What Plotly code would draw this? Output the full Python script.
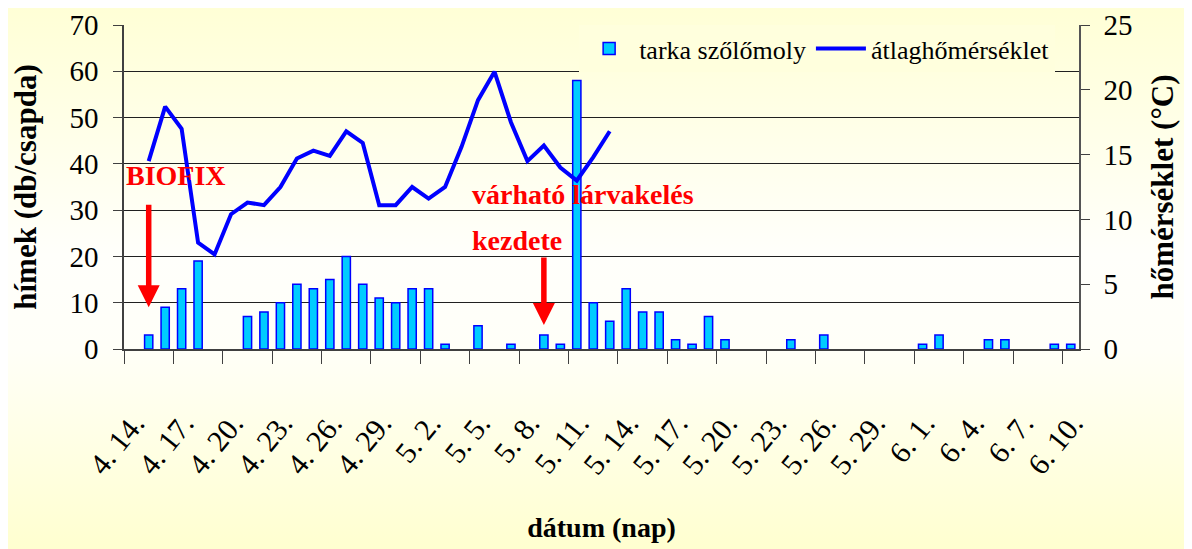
import base64
import plotly.graph_objects as go

# ---------------- data ----------------
dates = [
    "4. 14.", "4. 15.", "4. 16.", "4. 17.", "4. 18.", "4. 19.", "4. 20.", "4. 21.", "4. 22.", "4. 23.",
    "4. 24.", "4. 25.", "4. 26.", "4. 27.", "4. 28.", "4. 29.", "4. 30.",
    "5. 1.", "5. 2.", "5. 3.", "5. 4.", "5. 5.", "5. 6.", "5. 7.", "5. 8.", "5. 9.", "5. 10.",
    "5. 11.", "5. 12.", "5. 13.", "5. 14.", "5. 15.", "5. 16.", "5. 17.", "5. 18.", "5. 19.", "5. 20.",
    "5. 21.", "5. 22.", "5. 23.", "5. 24.", "5. 25.", "5. 26.", "5. 27.", "5. 28.", "5. 29.", "5. 30.", "5. 31.",
    "6. 1.", "6. 2.", "6. 3.", "6. 4.", "6. 5.", "6. 6.", "6. 7.", "6. 8.", "6. 9.", "6. 10.",
]

# caught males per trap (tarka szőlőmoly)
moths = [
    None, 3, 9, 13, 19, None, None, 7, 8, 10,
    14, 13, 15, 20, 14, 11, 10,
    13, 13, 1, None, 5, None, 1, None, 3, 1,
    58, 10, 6, 13, 8, 8, 2, 1, 7, 2,
    None, None, None, 2, None, 3, None, None, None, None, None,
    1, 3, None, None, 2, 2, None, None, 1, 1,
]

# daily mean temperature (°C)
temps = [
    None, 14.5, 18.7, 17.0, 8.2, 7.3, 10.4, 11.3, 11.1, 12.5,
    14.7, 15.3, 14.9, 16.8, 15.9, 11.1, 11.1,
    12.5, 11.6, 12.5, 15.6, 19.2, 21.4, 17.5, 14.5, 15.7, 14.0,
    13.0, 14.8, 16.8, None, None, None, None, None, None, None,
    None, None, None, None, None, None, None, None, None, None, None,
    None, None, None, None, None, None, None, None, None, None,
]

series_names = ["tarka szőlőmoly", "átlaghőmérséklet"]
left_title = "hímek (db/csapda)"
right_title = "hőmérséklet (°C)"
x_title = "dátum (nap)"

# ---------------- layout constants ----------------
W, H = 1192, 549
OFF = 8  # page body margin
ML, MR, MT, MB = 124 - OFF, 113 + OFF, 25 - OFF, 200 + OFF
PW, PH = W - ML - MR, H - MT - MB
FONT = "Liberation Serif, Times New Roman, Times, DejaVu Serif, serif"
AXC = "#404040"

svg = (
    f'<svg xmlns="http://www.w3.org/2000/svg" width="{W}" height="{H}" viewBox="0 0 {W} {H}" '
    f'preserveAspectRatio="none"><defs><linearGradient id="g" x1="0" y1="0" x2="0" y2="1">'
    '<stop offset="0" stop-color="#FFFFD6"/><stop offset="0.45" stop-color="#FFFFFB"/>'
    '<stop offset="0.62" stop-color="#FFFFF8"/><stop offset="1" stop-color="#FFFFCE"/>'
    f'</linearGradient></defs><rect width="{W}" height="{H}" fill="url(#g)"/></svg>'
)
bg_src = "data:image/svg+xml;base64," + base64.b64encode(svg.encode("utf-8")).decode()

fig = go.Figure()
fig.add_trace(go.Bar(
    x=dates, y=moths, name=series_names[0], yaxis="y",
    marker=dict(color="#00CCFF", line=dict(color="#0000FF", width=1.5)),
))
fig.add_trace(go.Scatter(
    x=dates, y=temps, name=series_names[1], yaxis="y2", mode="lines",
    line=dict(color="#0000FF", width=4),
))

tickfont = dict(family=FONT, size=29, color="black")

fig.update_layout(
    width=W, height=H,
    margin=dict(l=ML, r=MR, t=MT, b=MB, pad=0),
    paper_bgcolor="#FFFFF0",
    plot_bgcolor="rgba(0,0,0,0)",
    font=dict(family=FONT, color="black"),
    bargap=0.5,
    showlegend=True,
    legend=dict(
        orientation="h", x=0.975, xanchor="right", y=1.0, yanchor="top",
        bgcolor="#FFFFDD", borderwidth=0, font=dict(family=FONT, size=26, color="black"),
        itemwidth=50, traceorder="normal",
    ),
    images=[dict(
        source=bg_src, xref="paper", yref="paper",
        x=-ML / PW, y=1 + MT / PH, sizex=W / PW, sizey=H / PH,
        xanchor="left", yanchor="top", sizing="stretch", layer="below",
    )],
    xaxis=dict(
        type="category", categoryorder="array", categoryarray=dates,
        range=[-0.5, len(dates) - 0.5], automargin=False,
        tickmode="linear", tick0=0, dtick=3, tickson="boundaries",
        ticks="outside", ticklen=13, tickwidth=1.3, tickcolor=AXC,
        tickangle=-51, tickfont=dict(family=FONT, size=30, color="black"),
        ticklabelstandoff=43, ticklabelshift=2,
        showline=True, linecolor=AXC, linewidth=1.5, showgrid=False,
        title=dict(text=f"<b>{x_title}</b>", font=dict(family=FONT, size=28), standoff=38),
    ),
    xaxis2=dict(
        overlaying="x", anchor="y", type="linear", range=[-0.5, len(dates) - 0.5],
        tickmode="linear", tick0=-0.5, dtick=3, ticks="inside", ticklen=11,
        tickwidth=1.3, tickcolor=AXC, showticklabels=False, showgrid=False,
        zeroline=False, showline=False, side="bottom",
    ),
    yaxis=dict(
        range=[0, 70], tickmode="linear", tick0=0, dtick=10, automargin=False,
        ticks="outside", ticklen=9, tickwidth=1.3, tickcolor=AXC, tickfont=tickfont,
        ticklabelstandoff=9,
        showline=True, linecolor=AXC, linewidth=1.5,
        showgrid=True, gridcolor="#202020", gridwidth=1, zeroline=False,
        title=dict(text=f"<b>{left_title}</b>", font=dict(family=FONT, size=31), standoff=27),
    ),
    yaxis2=dict(
        overlaying="y", side="right", anchor="x", automargin=False,
        range=[0, 25], tickmode="linear", tick0=0, dtick=5,
        ticks="outside", ticklen=9, tickwidth=1.3, tickcolor=AXC, tickfont=tickfont,
        ticklabelstandoff=8,
        showline=True, linecolor="#555555", linewidth=1.5, showgrid=False, zeroline=False,
        title=dict(text=f"<b>{right_title}</b>", font=dict(family=FONT, size=31), standoff=20),
    ),
    yaxis3=dict(
        overlaying="y", side="left", anchor="x", range=[0, 70], tickmode="linear",
        tick0=0, dtick=10, ticks="inside", ticklen=9, tickwidth=1.3, tickcolor=AXC,
        showticklabels=False, showgrid=False, zeroline=False, showline=False,
    ),
    yaxis4=dict(
        overlaying="y", side="right", anchor="x", range=[0, 25], tickmode="linear",
        tick0=0, dtick=5, ticks="inside", ticklen=9, tickwidth=1.3, tickcolor=AXC,
        showticklabels=False, showgrid=False, zeroline=False, showline=False,
    ),
)

red = "#FF0000"
ann_font = dict(family=FONT, size=28, color=red)
fig.add_annotation(text="<b>BIOFIX</b>", xref="paper", x=0.0, xanchor="left",
                   yref="y", y=37.4, yanchor="middle", showarrow=False, font=ann_font)
fig.add_annotation(text="<b>várható lárvakelés</b>", xref="x", x=20.5, xanchor="left",
                   yref="y", y=33.3, yanchor="middle", showarrow=False, font=ann_font)
fig.add_annotation(text="<b>kezdete</b>", xref="x", x=20.5, xanchor="left",
                   yref="y", y=23.5, yanchor="middle", showarrow=False, font=ann_font)
# arrows
fig.add_annotation(text="", xref="x", yref="y", x=dates[1], y=9.0,
                   axref="x", ayref="y", ax=dates[1], ay=31.5,
                   showarrow=True, arrowhead=2, arrowsize=0.8, arrowwidth=5.5, arrowcolor=red)
fig.add_annotation(text="", xref="x", yref="y", x=dates[25], y=5.2,
                   axref="x", ayref="y", ax=dates[25], ay=20.1,
                   showarrow=True, arrowhead=2, arrowsize=0.8, arrowwidth=5.5, arrowcolor=red)

fig.write_html("out.html")
